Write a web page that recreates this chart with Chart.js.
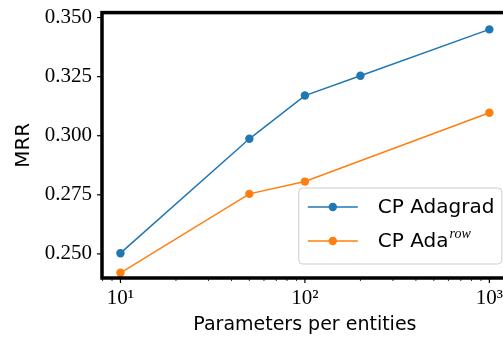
<!DOCTYPE html>
<html><head><meta charset="utf-8">
<script src="https://cdn.jsdelivr.net/npm/chart.js@4.4.0/dist/chart.umd.min.js"></script>
<style>
html,body{margin:0;padding:0;overflow:hidden;background:#fff;width:503px;height:339px;}
#wrap{position:absolute;left:0;top:-10px;width:512px;height:349px;}
</style></head><body>
<div id="wrap"><canvas id="c"></canvas></div>
<script>
const params = [10, 50, 100, 200, 1000];
const paramsRow = [10, 50, 100, 1000];
const mrrAdagrad = [0.2503, 0.2987, 0.3170, 0.3254, 0.3450];
const mrrAdaRow = [0.2420, 0.2754, 0.2806, 0.3097];
const yTicks = [0.250, 0.275, 0.300, 0.325, 0.350];
const xMajor = [10, 100, 1000];
const seriesNames = ['CP Adagrad', 'CP Ada'];
const seriesSup = ['', 'row'];
const colors = ['#1f77b4', '#ff7f0e'];

const SERIF = '"Liberation Serif", "DejaVu Serif", serif';
const SANS = '"DejaVu Sans", sans-serif';

const framePlugin = {
  id: 'frame',
  afterDraw(chart) {
    const ctx = chart.ctx, a = chart.chartArea;
    const xs = chart.scales.x, ys = chart.scales.y;
    ctx.save();
    ctx.strokeStyle = '#000';
    ctx.lineWidth = 1.2;
    yTicks.forEach(v => {
      const y = ys.getPixelForValue(v);
      ctx.beginPath(); ctx.moveTo(a.left - 5, y); ctx.lineTo(a.left, y); ctx.stroke();
    });
    for (let d = 1; d <= 1000; d *= 10) {
      for (let m = 1; m <= 9; m++) {
        const v = d * m;
        if (v < xs.min || v > xs.max) continue;
        const x = xs.getPixelForValue(v);
        const major = m === 1;
        ctx.lineWidth = major ? 1.2 : 0.8;
        ctx.beginPath(); ctx.moveTo(x, a.bottom); ctx.lineTo(x, a.bottom + (major ? 5 : 3)); ctx.stroke();
      }
    }
    ctx.lineWidth = 3.5;
    ctx.strokeRect(a.left, a.top, a.right - a.left, a.bottom - a.top);
    // legend
    const bx = a.right - 209, by = a.bottom - 90, bw = 203, bh = 76, r = 4;
    ctx.beginPath();
    ctx.moveTo(bx + r, by);
    ctx.arcTo(bx + bw, by, bx + bw, by + bh, r);
    ctx.arcTo(bx + bw, by + bh, bx, by + bh, r);
    ctx.arcTo(bx, by + bh, bx, by, r);
    ctx.arcTo(bx, by, bx + bw, by, r);
    ctx.closePath();
    ctx.fillStyle = 'rgba(255,255,255,0.8)';
    ctx.fill();
    ctx.lineWidth = 1;
    ctx.strokeStyle = '#cccccc';
    ctx.stroke();
    seriesNames.forEach((name, i) => {
      const y = by + 19 + i * 34;
      ctx.strokeStyle = colors[i]; ctx.lineWidth = 1.5;
      ctx.beginPath(); ctx.moveTo(bx + 9, y); ctx.lineTo(bx + 59, y); ctx.stroke();
      ctx.fillStyle = colors[i];
      ctx.beginPath(); ctx.arc(bx + 34, y, 4.2, 0, Math.PI * 2); ctx.fill();
      ctx.fillStyle = '#000';
      ctx.font = '20px ' + SANS;
      ctx.textBaseline = 'middle';
      ctx.textAlign = 'left';
      const tx = bx + 79;
      ctx.fillText(name, tx, y + 1);
      if (seriesSup[i]) {
        const w = ctx.measureText(name).width;
        ctx.font = 'italic 14px ' + SERIF;
        ctx.fillText(seriesSup[i], tx + w + 1, y - 7);
      }
    });
    ctx.restore();
  }
};

new Chart(document.getElementById('c'), {
  type: 'line',
  data: {
    datasets: [
      { label: seriesNames[0], data: params.map((p, i) => ({x: p, y: mrrAdagrad[i]})),
        borderColor: colors[0], backgroundColor: colors[0], borderWidth: 1.5,
        pointRadius: 4.2, pointHoverRadius: 4.2, pointBorderWidth: 0, fill: false },
      { label: seriesNames[1] + seriesSup[1], data: paramsRow.map((p, i) => ({x: p, y: mrrAdaRow[i]})),
        borderColor: colors[1], backgroundColor: colors[1], borderWidth: 1.5,
        pointRadius: 4.2, pointHoverRadius: 4.2, pointBorderWidth: 0, fill: false }
    ]
  },
  options: {
    responsive: true, maintainAspectRatio: false, animation: false,
    layout: { padding: { top: 2, right: 0, left: 0, bottom: 0 } },
    plugins: { legend: { display: false }, tooltip: { enabled: false } },
    scales: {
      x: {
        type: 'logarithmic', min: 7.943, max: 1259,
        grid: { display: false, drawTicks: false },
        border: { display: false },
        afterBuildTicks: s => { s.ticks = xMajor.map(v => ({value: v})); },
        afterFit: s => { s.height = 61; },
        ticks: {
          autoSkip: false, maxRotation: 0, padding: 8, color: '#000',
          font: { family: SERIF, size: 21 },
          callback: v => '10' + ['⁰','¹','²','³'][Math.round(Math.log10(v))]
        },
        title: { display: true, text: 'Parameters per entities', color: '#000',
          font: { family: SANS, size: 19 }, padding: { top: 0, bottom: 3 } }
      },
      y: {
        min: 0.2398, max: 0.3521,
        grid: { display: false, drawTicks: false },
        border: { display: false },
        afterBuildTicks: s => { s.ticks = yTicks.map(v => ({value: v})); },
        afterFit: s => { s.width = 102; },
        ticks: { padding: 10, color: '#000', font: { family: SERIF, size: 21 },
          callback: v => v.toFixed(3) },
        title: { display: true, text: 'MRR', color: '#000',
          font: { family: SANS, size: 20 }, padding: { top: 12, bottom: 0 } }
      }
    }
  },
  plugins: [framePlugin]
});
</script>
</body></html>
